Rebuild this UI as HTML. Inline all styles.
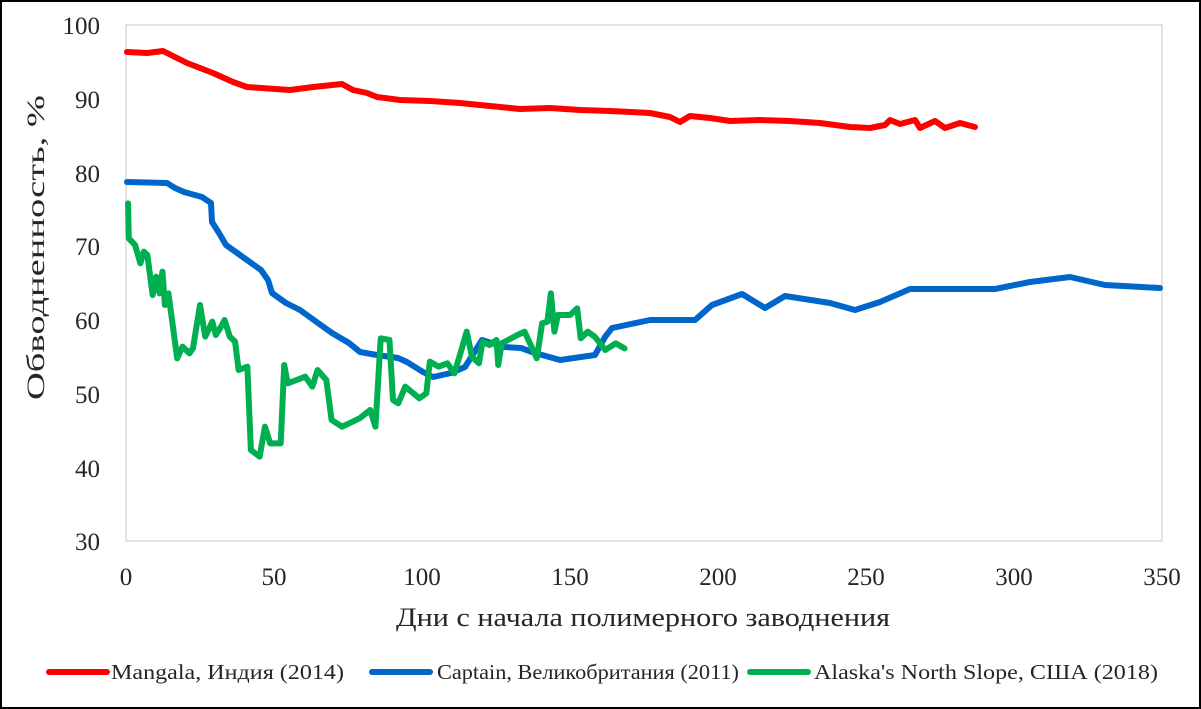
<!DOCTYPE html>
<html><head><meta charset="utf-8"><style>
body{margin:0;background:#fff}
svg{display:block}
text{font-family:"Liberation Serif",serif;fill:#262626}
</style></head><body>
<svg width="1201" height="709" viewBox="0 0 1201 709">
<rect x="1" y="1" width="1199" height="707" fill="#fff" stroke="#000" stroke-width="2"/>
<rect x="126" y="25" width="1036" height="516" fill="none" stroke="#d9d9d9" stroke-width="1.5"/>
<g font-size="25" text-anchor="end">
<text x="100" y="34">100</text><text x="100" y="108">90</text><text x="100" y="182">80</text>
<text x="100" y="255">70</text><text x="100" y="329">60</text><text x="100" y="403">50</text>
<text x="100" y="477">40</text><text x="100" y="550">30</text>
</g>
<g font-size="25" text-anchor="middle">
<text x="126" y="585">0</text><text x="274" y="585">50</text><text x="422" y="585">100</text>
<text x="570" y="585">150</text><text x="718" y="585">200</text><text x="866" y="585">250</text>
<text x="1014" y="585">300</text><text x="1162" y="585">350</text>
</g>
<text x="396" y="626" font-size="26" textLength="494" lengthAdjust="spacingAndGlyphs">Дни с начала полимерного заводнения</text>
<text transform="translate(44,400) rotate(-90)" font-size="25" textLength="305" lengthAdjust="spacingAndGlyphs">Обводненность, %</text>
<g fill="none" stroke-linejoin="round" stroke-linecap="round">
<polyline stroke="#ff0000" stroke-width="6" points="127,52 147,53 163,51 187,63 213,73 233,82 247,87 290,90 313,87 342,84 353,90 367,93 377,97 400,100 430,101 460,103 490,106 520,109 550,108 580,110 610,111 650,113 670,117 680,122 690,116 710,118 730,121 760,120 790,121 820,123 850,127 870,128 885,125 890,120 900,124 915,120 920,128 935,121 945,128 960,123 975,127"/>
<polyline stroke="#0066cc" stroke-width="6" points="127,182 167,183 175,188 184,192 202,197 211,203 212,222 219,233 226,245 240,255 261,270 268,280 272,293 286,303 300,310 318,323 332,333 349,343 360,352 377,355 398,358 407,362 423,372 433,377 451,373 465,367 482,340 504,347 521,348 535,353 560,360 595,355 605,337 612,328 650,320 695,320 712,305 742,294 765,308 785,296 830,303 855,310 880,302 910,289 950,289 995,289 1030,282 1070,277 1105,285 1160,288"/>
<polyline stroke="#00b050" stroke-width="6" vector-effect="non-scaling-stroke" transform="translate(100,150) scale(0.35088,0.33333)" points="80,160 82,265 100,285 115,340 125,305 135,315 150,435 160,380 170,430 178,365 185,465 195,430 220,625 235,590 255,610 265,595 285,465 300,560 320,515 330,555 345,530 355,510 370,560 385,575 395,660 420,650 430,900 455,920 470,830 485,880 515,880 525,645 535,700 560,690 585,680 605,710 620,660 645,690 660,810 690,830 740,805 770,780 785,830 800,565 825,570 835,750 850,760 870,710 910,745 930,730 940,635 965,650 990,640 1010,670 1030,600 1045,545 1060,620 1080,640 1090,575 1110,585 1130,570 1135,645 1145,580 1190,555 1210,545 1245,625 1260,520 1275,515 1285,430 1295,545 1305,495 1340,495 1360,475 1370,565 1390,545 1410,560 1440,600 1470,580 1495,595"/>
</g>
<g stroke-width="6" stroke-linecap="round">
<line x1="49" y1="672" x2="107" y2="672" stroke="#ff0000"/>
<line x1="372" y1="672" x2="430" y2="672" stroke="#0066cc"/>
<line x1="750" y1="672" x2="808" y2="672" stroke="#00b050"/>
</g>
<g font-size="21">
<text x="111" y="679" textLength="233" lengthAdjust="spacingAndGlyphs">Mangala, Индия (2014)</text>
<text x="437" y="679" textLength="302" lengthAdjust="spacingAndGlyphs">Captain, Великобритания (2011)</text>
<text x="814" y="679" textLength="344" lengthAdjust="spacingAndGlyphs">Alaska's North Slope, США (2018)</text>
</g>
</svg>
</body></html>
